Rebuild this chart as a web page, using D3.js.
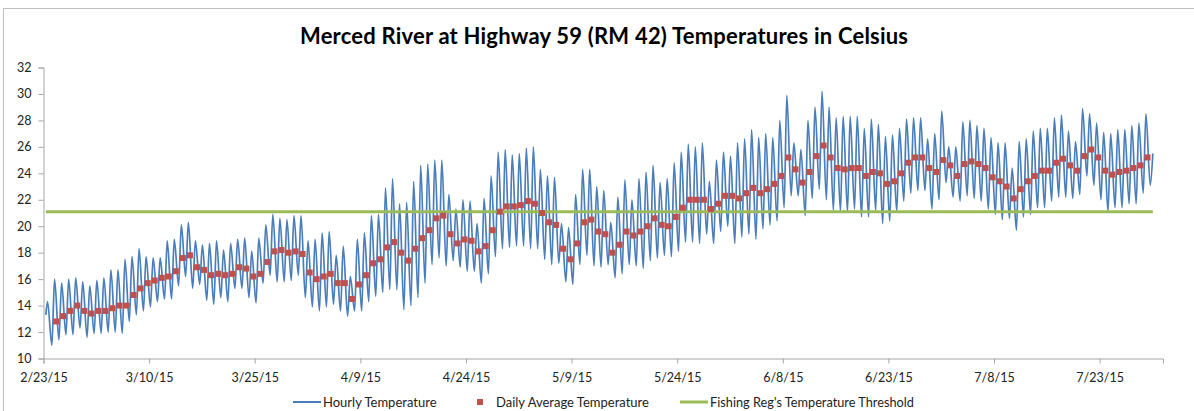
<!DOCTYPE html>
<html>
<head>
<meta charset="utf-8">
<script src="https://d3js.org/d3.v7.min.js"></script>
<style>
  body { margin: 0; background: #fff; }
  svg { display: block; }
</style>
</head>
<body>
<script>

// chart values
var chartTitle = "Merced River at Highway 59 (RM 42) Temperatures in Celsius";
var firstDay = "2/23/15";
var lastDay = "8/1/15";
var xTickLabels = ["2/23/15", "3/10/15", "3/25/15", "4/9/15", "4/24/15", "5/9/15",
                   "5/24/15", "6/8/15", "6/23/15", "7/8/15", "7/23/15"];
var yTicks = [10, 12, 14, 16, 18, 20, 22, 24, 26, 28, 30, 32];
var seriesNames = ["Hourly Temperature", "Daily Average Temperature", "Fishing Reg's Temperature Threshold"];

// hourly record: first reading, daily highs and lows (one per day from 2/23), last reading
var hourlyFirst = 13.3;
var hourlyLast = 25.5;
var dailyHigh = [
  14.3,16.0,15.7,16.0,16.1,15.8,15.5,15.9,16.1,16.7,
  16.7,17.5,17.7,18.3,17.7,17.6,17.6,18.9,19.0,20.1,
  20.3,18.9,18.6,18.7,18.9,18.2,18.7,19.0,19.1,18.1,
  19.1,20.1,20.9,20.6,20.5,20.8,20.8,18.9,19.0,19.5,
  19.6,17.8,18.5,16.2,19.0,19.5,20.8,20.9,22.9,23.6,
  21.7,21.8,23.4,24.6,24.7,25.0,25.0,22.4,21.3,22.0,
  21.9,20.2,22.1,23.8,25.6,25.8,25.4,25.5,25.9,26.0,
  24.3,23.8,23.7,20.2,19.9,22.4,24.3,24.3,23.0,22.7,
  20.3,22.2,23.5,22.0,23.6,24.1,24.6,23.3,23.6,24.8,
  25.6,26.2,26.0,26.3,23.4,25.0,25.6,25.3,26.3,26.6,
  27.3,26.7,27.0,26.7,28.0,29.9,26.3,25.8,28.0,29.0,
  30.2,29.0,28.2,28.3,28.3,28.3,27.4,28.1,27.7,26.8,
  26.9,27.4,28.1,28.2,28.2,26.6,27.0,28.7,26.0,26.0,
  27.9,28.0,27.6,27.4,26.7,26.3,26.3,24.4,26.4,26.6,
  27.2,27.4,27.4,28.2,28.4,27.2,26.4,28.9,28.5,27.8,
  27.1,27.0,27.3,27.3,27.6,27.8,28.5];
var dailyLow = [
  11.0,11.4,11.8,11.8,12.3,11.6,11.9,11.9,12.0,12.0,
  11.9,12.8,13.3,13.6,13.9,14.3,14.5,14.5,15.5,16.2,
  15.3,15.6,14.4,14.1,14.6,14.3,15.3,15.3,14.6,14.2,
  15.7,16.3,15.8,15.8,15.9,16.3,14.6,13.9,13.6,13.9,
  14.1,13.6,13.2,13.6,13.6,14.3,14.7,15.0,15.2,15.2,
  13.7,14.0,14.6,15.7,17.1,17.6,17.0,17.4,16.9,16.6,
  16.6,15.7,16.4,17.7,18.3,18.4,18.5,18.5,18.3,18.3,
  17.5,17.1,17.2,15.8,15.6,17.1,17.8,17.0,16.9,17.1,
  16.1,16.4,17.1,17.0,16.8,17.4,17.6,17.8,17.7,18.1,
  18.8,18.8,18.7,19.4,18.7,19.6,20.0,18.7,19.2,19.4,
  19.0,19.8,20.1,20.4,21.4,22.3,22.3,20.8,22.1,22.8,
  22.0,21.2,21.1,21.1,21.3,20.7,20.7,21.2,20.2,20.4,
  21.1,21.9,22.5,22.7,22.7,21.3,22.0,23.3,22.2,21.9,
  22.3,22.1,21.9,21.3,20.9,20.5,20.6,19.7,20.7,20.9,
  21.4,21.4,21.9,22.2,22.2,22.1,22.4,23.8,23.1,22.0,
  21.1,21.4,21.4,21.7,21.7,22.5,23.1];

// daily averages, starting 2/24/15
var avgFirstDay = "2/24/15";
var dailyAvg = [
  12.8,13.2,13.6,14.0,13.6,13.4,13.6,13.6,13.8,14.0,
  14.0,14.8,15.3,15.7,15.9,16.1,16.2,16.6,17.6,17.8,
  16.9,16.7,16.3,16.4,16.3,16.4,16.9,16.8,16.2,16.4,
  17.3,18.1,18.2,18.0,18.1,17.9,16.5,16.0,16.2,16.4,
  15.7,15.7,14.5,15.6,16.3,17.2,17.5,18.4,18.8,18.0,
  17.4,18.3,19.1,19.7,20.6,20.8,19.4,18.7,19.0,18.9,
  18.1,18.5,19.7,21.1,21.5,21.5,21.6,21.9,21.7,21.0,
  20.3,20.1,18.3,17.5,18.7,20.3,20.5,19.6,19.4,18.0,
  18.6,19.6,19.3,19.6,20.0,20.6,20.1,20.0,20.7,21.4,
  22.0,22.0,22.0,21.3,21.7,22.3,22.3,22.1,22.5,22.9,
  22.5,22.8,23.2,23.8,25.2,24.3,23.3,24.1,25.3,26.1,
  25.2,24.4,24.3,24.4,24.4,23.8,24.1,24.0,23.2,23.4,
  24.0,24.8,25.2,25.2,24.4,24.1,25.0,24.6,23.8,24.7,
  24.9,24.7,24.4,23.7,23.4,23.0,22.1,22.8,23.4,23.8,
  24.2,24.2,24.8,25.1,24.6,24.2,25.3,25.8,25.2,24.2,
  23.9,24.1,24.2,24.4,24.6,25.2];

var threshold = 21.1;

var width = 1194, height = 411;
var parse = d3.timeParse("%m/%d/%y");
var font = "Lato, 'Liberation Sans', Arial, sans-serif";

var svg = d3.select("body").append("svg")
    .attr("width", width)
    .attr("height", height)
    .style("font-family", font);

// chart frame
svg.append("rect")
    .attr("x", 3.5).attr("y", 8.5)
    .attr("width", width + 20).attr("height", height + 20)
    .style("fill", "#fff")
    .style("stroke", "#bfbfbf")
    .style("stroke-width", 1);

var x = d3.scaleTime()
    .domain([parse(firstDay), parse(lastDay)])
    .range([43.5, 1163]);
var y = d3.scaleLinear()
    .domain([10, 32])
    .range([358.5, 67.5]);

// hourly readings as time/value pairs (peak mid-afternoon, low before dawn)
var t0 = parse(firstDay);
var hourly = [{t: d3.timeHour.offset(t0, 8), v: hourlyFirst}];
dailyHigh.forEach(function (v, d) {
    hourly.push({t: d3.timeMinute.offset(t0, d * 1440 + 820), v: v});
    hourly.push({t: d3.timeMinute.offset(t0, d * 1440 + 1713), v: dailyLow[d]});
});
hourly.push({t: d3.timeMinute.offset(t0, dailyHigh.length * 1440 + 800), v: hourlyLast});

var a0 = parse(avgFirstDay);
var avgs = dailyAvg.map(function (v, i) {
    return {t: d3.timeMinute.offset(a0, i * 1440 + 1150), v: v};
});

// axes
var yAxis = svg.append("g")
    .attr("transform", "translate(43.5,0)")
    .call(d3.axisLeft(y).tickValues(yTicks).tickSize(5).tickPadding(7).tickFormat(d3.format("d")));
var xAxis = svg.append("g")
    .attr("transform", "translate(0,358.5)")
    .call(d3.axisBottom(x).tickValues(xTickLabels.map(parse)).tickSize(5).tickPadding(7)
        .tickFormat(d3.timeFormat("%-m/%-d/%y")));

[yAxis, xAxis].forEach(function (g) {
    g.select(".domain").style("stroke", "#a6a6a6");
    g.selectAll(".tick line").style("stroke", "#a6a6a6");
    g.selectAll(".tick text")
        .style("font-family", font)
        .style("font-size", "12.5px")
        .style("fill", "#222");
});
xAxis.selectAll(".tick text").attr("dy", "0.9em");

// hourly line
var line = d3.line()
    .x(function (d) { return x(d.t); })
    .y(function (d) { return y(d.v); })
    .curve(d3.curveMonotoneX);

svg.append("path")
    .datum(hourly)
    .attr("d", line)
    .style("fill", "none")
    .style("stroke", "#4a7ebb")
    .style("stroke-width", 1.7)
    .style("stroke-linejoin", "round");

// threshold line
svg.append("line")
    .attr("x1", x(hourly[0].t)).attr("x2", x(hourly[hourly.length - 1].t))
    .attr("y1", y(threshold)).attr("y2", y(threshold))
    .style("stroke", "#9bbb59")
    .style("stroke-width", 3);

// daily average markers
svg.append("g").selectAll("rect")
    .data(avgs)
    .join("rect")
    .attr("x", function (d) { return x(d.t) - 3; })
    .attr("y", function (d) { return y(d.v) - 3; })
    .attr("width", 6)
    .attr("height", 6)
    .style("fill", "#c0504d");

// title
svg.append("text")
    .attr("x", 604)
    .attr("y", 44)
    .attr("text-anchor", "middle")
    .attr("textLength", 608)
    .attr("lengthAdjust", "spacing")
    .style("font-size", "22px")
    .style("font-weight", "bold")
    .style("fill", "#000")
    .text(chartTitle);

// legend (sits at the very bottom edge, as in the original)
var ly = 402;
var legend = svg.append("g").style("font-size", "13px").style("fill", "#222");
legend.append("line")
    .attr("x1", 293).attr("x2", 321).attr("y1", ly).attr("y2", ly)
    .style("stroke", "#4a7ebb").style("stroke-width", 2);
legend.append("text").attr("x", 323).attr("y", ly + 5).text(seriesNames[0]);
legend.append("rect")
    .attr("x", 477).attr("y", ly - 3).attr("width", 6).attr("height", 6)
    .style("fill", "#c0504d");
legend.append("text").attr("x", 496).attr("y", ly + 5).text(seriesNames[1]);
legend.append("line")
    .attr("x1", 680).attr("x2", 708).attr("y1", ly).attr("y2", ly)
    .style("stroke", "#9bbb59").style("stroke-width", 3);
legend.append("text").attr("x", 710).attr("y", ly + 5)
    .attr("textLength", 204).attr("lengthAdjust", "spacingAndGlyphs")
    .text(seriesNames[2]);

</script>
</body>
</html>
